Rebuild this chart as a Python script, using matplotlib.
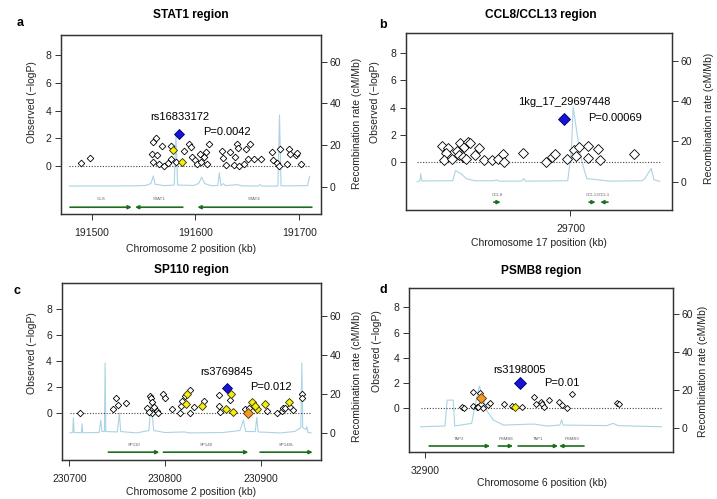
import matplotlib
matplotlib.use('Agg')
import matplotlib.pyplot as plt

plt.rcParams['font.family'] = ['Liberation Sans', 'DejaVu Sans']

W, H = 717, 499

# ---------------- panel a : STAT1 region ----------------
a_snp_x = [191489.7, 191498.4, 191558.8, 191562.1, 191568.2, 191557.9, 191563.3, 191559.5,
           191565.3, 191569.8, 191573.3, 191576.2, 191576.8, 191581.4, 191589.1, 191594.2,
           191595.5, 191597.1, 191600.0, 191601.9, 191605.1, 191608.4, 191610.0, 191613.5,
           191604.5, 191611.6, 191625.4, 191626.4, 191629.3, 191633.4, 191638.3, 191639.9,
           191640.8, 191636.7, 191642.4, 191646.6, 191650.2, 191652.1, 191648.9, 191656.6,
           191663.0, 191673.6, 191675.2, 191678.5, 191681.0, 191681.7, 191690.0, 191691.3,
           191688.7, 191696.5, 191697.7, 191701.6]
a_snp_y = [0.22, 0.55, 1.73, 2.05, 1.44, 0.89, 0.82, 0.29,
           0.17, 0.00, 0.22, 0.53, 1.42, 0.29, 1.08, 1.61,
           1.37, 0.65, 0.46, 0.17, 0.29, 0.65, 1.01, 1.56,
           0.89, 0.12, 1.08, 0.60, 0.07, 1.01, 0.65, 1.56,
           1.32, 0.07, 0.00, 0.17, 0.48, 1.61, 1.23, 0.53,
           0.53, 1.01, 0.41, 0.22, 0.02, 1.25, 1.20, 0.89,
           0.17, 0.77, 0.94, 0.17]
a_yellow_x = [191578.1, 191586.8]
a_yellow_y = [1.13, 0.29]
a_orange_x = []
a_orange_y = []
a_lead = (191584.6, 2.33)
a_lead_name = 'rs16833172'
a_pval = 'P=0.0042'
a_rec_x = [191478.5, 191540, 191552, 191557, 191559.4, 191561, 191570, 191579.5, 191581.2,
           191582.8, 191598, 191603, 191606, 191609, 191615, 191621.5, 191623, 191624.5,
           191627, 191629, 191640, 191645, 191660, 191662, 191664, 191679.5, 191681,
           191682.5, 191708, 191710]
a_rec_y = [0.3, 0.4, 0.6, 1.5, 5.1, 1.2, 0.5, 0.8, 24, 0.8, 0.6, 1.5, 4.5, 1.5, 0.5, 0.5,
           6.7, 0.5, 1.5, 0.5, 1.0, 0.4, 0.3, 1.0, 0.3, 0.3, 34.4, 0.4, 0.5, 5.0]
a_genes = ['GLS', 'STAT1', 'STAT4']
a_gene_start = [191479.1, 191587.8, 191712.2]
a_gene_end = [191538.6, 191541.8, 191601.9]

# ---------------- panel b : CCL8/CCL13 region ----------------
b_snp_x = [29652.9, 29655.4, 29654.5, 29653.9, 29656.6, 29658.6, 29659.6, 29659.4, 29660.8,
           29661.8, 29661.1, 29662.7, 29663.3, 29665.1, 29666.7, 29668.4, 29671.5, 29673.6,
           29675.4, 29675.7, 29682.5, 29691.0, 29693.4, 29694.3, 29698.8, 29701.2, 29702.0,
           29703.2, 29706.4, 29706.4, 29710.1, 29710.7, 29723.1]
b_snp_y = [1.18, 1.03, 0.67, 0.12, 0.17, 0.81, 1.40, 0.49, 0.37,
           0.17, 1.11, 1.48, 1.35, 0.49, 0.99, 0.12, 0.12, 0.17,
           0.57, 0.00, 0.62, 0.00, 0.37, 0.57, 0.17, 0.86, 0.44,
           1.11, 1.16, 0.25, 0.91, 0.12, 0.57]
b_yellow_x = []
b_yellow_y = []
b_orange_x = []
b_orange_y = []
b_lead = (29697.6, 3.13)
b_lead_name = '1kg_17_29697448'
b_pval = 'P=0.00069'
b_rec_x = [29644.0, 29645.0, 29645.3, 29645.7, 29657.0, 29658.0, 29660.0, 29662.0, 29665.0,
           29672.0, 29673.0, 29674.0, 29682.0, 29683.0, 29683.5, 29699.0, 29700.3, 29701.0,
           29702.5, 29703.5, 29705.0, 29706.0, 29708.0, 29711.0, 29714.0, 29726.0, 29727.0,
           29729.5, 29730.5, 29732.6]
b_rec_y = [0.0, 0.5, 4.0, 0.4, 0.5, 5.5, 4.0, 1.5, 0.5, 0.5, 0.9, 0.3, 0.3, 1.5, 0.3, 0.5,
           15, 37, 23, 14, 6, 1.5, 1.3, 0.8, 0.3, 0.5, 1.2, 6.6, 1.0, 0.2]
b_genes = ['CCL8', 'CCL13', 'CCL1']
b_gene_start = [29672.0, 29706.8, 29713.7]
b_gene_end = [29674.5, 29709.2, 29710.9]

# ---------------- panel c : SP110 region ----------------
c_snp_x = [230711.5, 230745.2, 230748.7, 230750.4, 230758.8, 230780.7, 230784.2, 230784.9,
           230785.9, 230785.9, 230788.3, 230783.5, 230791.1, 230792.9, 230798.1, 230799.8,
           230806.8, 230815.5, 230816.5, 230817.2, 230820.7, 230825.9, 230825.9, 230830.4,
           230840.5, 230856.5, 230856.5, 230857.2, 230867.7, 230883.3, 230887.8, 230905.9,
           230917.0, 230921.6, 230922.6, 230925.0, 230930.3, 230933.7, 230942.4, 230942.4]
c_snp_y = [0.00, 0.33, 1.15, 0.64, 0.77, 0.38, 1.33, 1.15,
           0.90, 0.00, 0.51, 0.13, 0.20, 0.05, 1.48, 1.15,
           0.33, 0.00, 0.56, 0.97, 1.33, 1.79, 0.05, 0.51,
           0.97, 1.41, 0.56, 0.13, 1.02, 0.31, 0.38, 0.20,
           0.05, 0.20, 0.38, 0.38, 0.51, 0.26, 1.48, 1.15]
c_yellow_x = [230822.4, 230821.7, 230838.1, 230863.5, 230868.7, 230871.1, 230890.3, 230895.5,
              230893.5, 230904.2, 230929.6]
c_yellow_y = [1.46, 0.72, 0.56, 0.31, 1.46, 0.13, 0.90, 0.36, 0.56, 0.69, 0.90]
c_orange_x = [230886.8]
c_orange_y = [0.0]
c_lead = (230864.2, 1.92)
c_lead_name = 'rs3769845'
c_pval = 'P=0.012'
c_rec_x = [230700.7, 230703.5, 230704.2, 230705, 230712.5, 230713.3, 230714, 230731, 230732.8,
           230734, 230736.6, 230737.3, 230738, 230750, 230752.2, 230753.5, 230770, 230783,
           230785.3, 230788, 230800, 230820, 230825, 230860, 230878, 230881.6, 230884, 230894,
           230895.6, 230897, 230920, 230935, 230941.5, 230942.6, 230943.5, 230947, 230947.8,
           230949, 230952.3]
c_rec_y = [0.3, 0.5, 8, 0.5, 0.4, 5, 0.4, 0.5, 6.8, 1, 1, 35.9, 1, 0.8, 10.3, 1.0, 0.3, 1.5,
           16, 1.5, 0.5, 0.8, 0.3, 0.5, 1.5, 6.8, 1.0, 1.0, 8.3, 0.8, 0.3, 1.0, 3, 35.9, 3, 2,
           3.5, 0.5, 0.3]
c_genes = ['SP110', 'SP140', 'SP140L']
c_gene_start = [230740.7, 230798.1, 230899.0]
c_gene_end = [230793.9, 230886.8, 230953.9]

# ---------------- panel d : PSMB8 region ----------------
d_snp_x = [32910.2, 32910.9, 32913.4, 32913.4, 32914.4, 32914.8, 32915.3, 32915.7, 32916.2,
           32917.6, 32918.2, 32921.9, 32924.1, 32927.1, 32930.4, 32930.8, 32932.2, 32932.4,
           32933.1, 32934.5, 32937.3, 32938.2, 32939.5, 32940.9, 32953.5, 32954.0]
d_snp_y = [0.08, 0.00, 1.27, 0.18, 0.13, 0.08, 1.24, 0.34, 0.00,
           0.26, 0.40, 0.32, 0.18, 0.08, 0.87, 0.34, 0.53, 0.34,
           0.13, 0.66, 0.53, 0.26, 0.00, 1.13, 0.45, 0.34]
d_yellow_x = [32925.0]
d_yellow_y = [0.13]
d_orange_x = [32915.7]
d_orange_y = [0.84]
d_lead = (32926.4, 1.98)
d_lead_name = 'rs3198005'
d_pval = 'P=0.01'
d_rec_x = [32898.8, 32905.6, 32906.2, 32907.9, 32908.3, 32913.0, 32913.9, 32915.1, 32916.2,
           32917.1, 32919.0, 32921.8, 32929.6, 32930.5, 32933.8, 32937.5, 32938.0, 32938.4,
           32950.5, 32952.3, 32953.7, 32965.7]
d_rec_y = [0.5, 0.9, 14.6, 14.6, 0.9, 2.3, 11.1, 22, 16.4, 9.3, 4.1, 1.4, 1.9, 1.9, 0.9, 1.4,
           4.1, 1.4, 1.1, 2.3, 1.1, 0.5]
d_genes = ['TAP2', 'PSMB8', 'TAP1', 'PSMB9']
d_gene_start = [32901.2, 32920.4, 32925.9, 32944.2]
d_gene_end = [32918.1, 32924.5, 32937.0, 32937.3]


def px_rect(l, t, r, b):
    return [l / W, 1 - b / H, (r - l) / W, (b - t) / H]


def ftext(x, y, s, **kw):
    fig.text(x / W, 1 - y / H, s, ha='center', va='center', **kw)


fig = plt.figure(figsize=(W / 100, H / 100), dpi=100)

panels = [
    dict(rect=(61, 35, 321, 214), xlim=(191470.4, 191721), ylim=(-3.47, 9.46), rlim=(-13.1, 72.8),
         xticks=[191500, 191600, 191700], snp=(a_snp_x, a_snp_y), yel=(a_yellow_x, a_yellow_y),
         ora=(a_orange_x, a_orange_y), lead=a_lead, name=a_lead_name, pval=a_pval,
         name_xy=(a_lead[0], 3.55), p_xy=(191607.7, 2.45), rec=(a_rec_x, a_rec_y),
         genes=(a_genes, a_gene_start, a_gene_end), ms=(3.4, 4.0, 5.2, 5.6),
         title='STAT1 region', letter='a', title_xy=(191, 15), letter_xy=(20, 23),
         xlab='Chromosome 2 position (kb)', xlab_xy=(191, 249),
         yl_xy=(32, 102), yr_xy=(357, 123)),
    dict(rect=(405.7, 33, 672, 210), xlim=(29639.8, 29737.1), ylim=(-3.56, 9.5), rlim=(-14, 73.7),
         xticks=[29700], snp=(b_snp_x, b_snp_y), yel=(b_yellow_x, b_yellow_y),
         ora=(b_orange_x, b_orange_y), lead=b_lead, name=b_lead_name, pval=b_pval,
         name_xy=(b_lead[0], 4.43), p_xy=(29706.4, 3.2), rec=(b_rec_x, b_rec_y),
         genes=(b_genes, b_gene_start, b_gene_end), ms=(5.0, 5.0, 5.2, 6.0),
         title='CCL8/CCL13 region', letter='b', title_xy=(541, 15), letter_xy=(383, 25),
         xlab='Chromosome 17 position (kb)', xlab_xy=(539, 243),
         yl_xy=(375, 102), yr_xy=(709, 118)),
    dict(rect=(61.7, 283.3, 321, 460), xlim=(230692, 230962.6), ylim=(-3.58, 9.97), rlim=(-13.5, 76.5),
         xticks=[230700, 230800, 230900], snp=(c_snp_x, c_snp_y), yel=(c_yellow_x, c_yellow_y),
         ora=(c_orange_x, c_orange_y), lead=c_lead, name=c_lead_name, pval=c_pval,
         name_xy=(c_lead[0], 3.2), p_xy=(230888.5, 2.05), rec=(c_rec_x, c_rec_y),
         genes=(c_genes, c_gene_start, c_gene_end), ms=(3.3, 4.5, 5.3, 5.4),
         title='SP110 region', letter='c', title_xy=(191, 270), letter_xy=(17, 291),
         xlab='Chromosome 2 position (kb)', xlab_xy=(191, 492),
         yl_xy=(32, 353), yr_xy=(357, 376)),
    dict(rect=(409, 287.7, 673.3, 451.7), xlim=(32895.6, 32969.0), ylim=(-3.43, 9.55), rlim=(-12.7, 74.1),
         xticks=[32900], snp=(d_snp_x, d_snp_y), yel=(d_yellow_x, d_yellow_y),
         ora=(d_orange_x, d_orange_y), lead=d_lead, name=d_lead_name, pval=d_pval,
         name_xy=(d_lead[0], 3.03), p_xy=(32933.1, 2.03), rec=(d_rec_x, d_rec_y),
         genes=(d_genes, d_gene_start, d_gene_end), ms=(3.1, 3.8, 5.3, 5.8),
         title='PSMB8 region', letter='d', title_xy=(541, 271), letter_xy=(383, 290),
         xlab='Chromosome 6 position (kb)', xlab_xy=(542, 483),
         yl_xy=(377, 351), yr_xy=(703, 371)),
]

spine_col = '#333333'
for p in panels:
    ax = fig.add_axes(px_rect(*p['rect']))
    rax = ax.twinx()
    ax.set_zorder(rax.get_zorder() + 1)
    ax.patch.set_visible(False)

    # recombination rate
    rax.plot(p['rec'][0], p['rec'][1], color='#aad4e4', lw=0.8)
    rax.set_ylim(*p['rlim'])
    rax.set_yticks([0, 20, 40, 60])

    # reference line at zero
    x0, x1 = p['rec'][0][0], p['rec'][0][-1]
    ax.plot([x0, x1], [0, 0], ls=(0, (1, 1.5)), color='#444444', lw=0.8)

    ms_w, ms_y, ms_o, ms_l = p['ms']
    ax.plot(p['snp'][0], p['snp'][1], 'D', ms=ms_w, mfc='white', mec='black', mew=0.6, ls='none')
    ax.plot(p['yel'][0], p['yel'][1], 'D', ms=ms_y, mfc='#f5ee10', mec='#333300', mew=0.6, ls='none')
    ax.plot(p['ora'][0], p['ora'][1], 'D', ms=ms_o, mfc='#f29a28', mec='#553300', mew=0.6, ls='none')
    ax.plot([p['lead'][0]], [p['lead'][1]], 'D', ms=ms_l, mfc='#1515d8', mec='#000066', mew=0.6, ls='none')

    ax.text(p['name_xy'][0], p['name_xy'][1], p['name'], ha='center', va='center', fontsize=8)
    ax.text(p['p_xy'][0], p['p_xy'][1], p['pval'], ha='left', va='center', fontsize=8)

    # gene track
    names, starts, ends = p['genes']
    for g, s, e in zip(names, starts, ends):
        ax.annotate('', xy=(e, -2.98), xytext=(s, -2.98),
                    arrowprops=dict(arrowstyle='-|>', color='#1b6e1b', lw=1.2,
                                    mutation_scale=5, shrinkA=0, shrinkB=0))
        ax.text((s + e) / 2, -2.42, g, ha='center', va='center', fontsize=3.2, color='#666666')

    ax.set_xlim(*p['xlim'])
    ax.set_ylim(*p['ylim'])
    ax.set_xticks(p['xticks'])
    ax.set_yticks([0, 2, 4, 6, 8])
    ax.tick_params(labelsize=7.5, length=4, width=0.7, color=spine_col, labelcolor='#222222')
    ax.tick_params(axis='x', pad=6)
    ax.tick_params(axis='y', pad=3)
    rax.tick_params(labelsize=7.5, length=4, width=0.7, color=spine_col, labelcolor='#222222', pad=2)
    for a in (ax, rax):
        for sp in a.spines.values():
            sp.set_color(spine_col)
            sp.set_linewidth(0.9)

    ftext(*p['title_xy'], p['title'], fontsize=8.6, fontweight='bold')
    ftext(*p['letter_xy'], p['letter'], fontsize=9, fontweight='bold')
    ftext(*p['xlab_xy'], p['xlab'], fontsize=7.5, color='#222222')
    ftext(*p['yl_xy'], 'Observed (\u2212logP)', fontsize=7.5, rotation=90, color='#222222')
    ftext(*p['yr_xy'], 'Recombination rate (cM/Mb)', fontsize=7.5, rotation=90, color='#222222')

fig.savefig('out.png', dpi=100)
